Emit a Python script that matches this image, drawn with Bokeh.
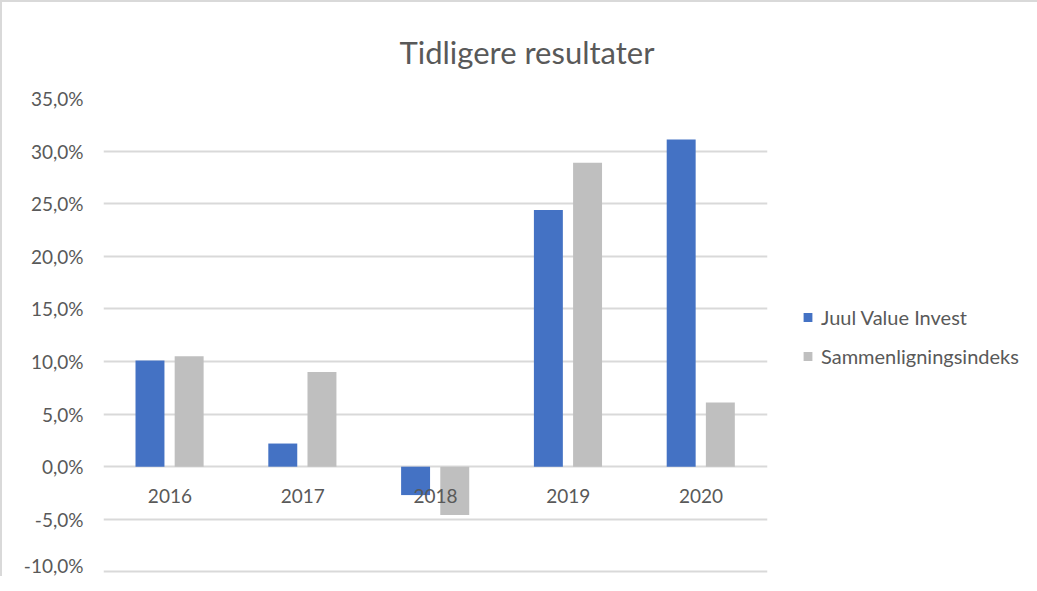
from bokeh.plotting import figure
from bokeh.models import (FactorRange, Range1d, FixedTicker, CustomJSTickFormatter,
                          Legend, LegendItem, Title, ColumnDataSource)
from bokeh.transform import dodge
from bokeh.core.properties import value
from bokeh.embed import file_html
from bokeh.resources import INLINE

title_text = "Tidligere resultater"
years = ["2016", "2017", "2018", "2019", "2020"]
juul = [10.1, 2.2, -2.7, 24.4, 31.1]
index = [10.5, 9.0, -4.6, 28.9, 6.1]
series_names = ["Juul Value Invest", "Sammenligningsindeks"]
y_ticks = [-10, -5, 0, 5, 10, 15, 20, 25, 30, 35]

FONT = "Lato"
TXT = "#595959"
BLUE = "#4472C4"
GRAY = "#BFBFBF"

src = ColumnDataSource(dict(year=years, juul=juul, index=index, zero=[0] * len(years)))

p = figure(frame_width=664, frame_height=476, output_backend="svg", toolbar_location=None,
           x_range=FactorRange(*years, range_padding=0),
           y_range=Range1d(-10.25, 35),
           min_border_left=101, min_border_right=0, min_border_top=96, min_border_bottom=2)
p.styles = {"border-left": "2px solid #d9d9d9", "border-top": "2px solid #d9d9d9"}
p.outline_line_color = None
p.background_fill_color = "white"
p.border_fill_color = "white"

p.title = Title(text=title_text, align="left", offset=296, text_font=FONT,
                text_font_size="31px", text_font_style="normal", text_color=TXT,
                standoff=56)

p.xaxis.visible = False
p.xgrid.visible = False
p.ygrid.grid_line_color = "#d9d9d9"
p.ygrid.grid_line_width = 2
p.ygrid.ticker = FixedTicker(ticks=y_ticks)

ya = p.yaxis[0]
ya.ticker = FixedTicker(ticks=y_ticks)
ya.formatter = CustomJSTickFormatter(code="return tick.toFixed(1).replace('.', ',') + '%';")
ya.axis_line_color = None
ya.major_tick_line_color = None
ya.minor_tick_line_color = None
ya.major_tick_out = 0
ya.major_label_standoff = 20
ya.major_label_text_font = FONT
ya.major_label_text_font_size = "19px"
ya.major_label_text_color = TXT

r1 = p.vbar(x=dodge("year", -0.15, range=p.x_range), top="juul", width=0.218,
            source=src, fill_color=BLUE, line_color=None)
r2 = p.vbar(x=dodge("year", 0.145, range=p.x_range), top="index", width=0.218,
            source=src, fill_color=GRAY, line_color=None)

p.text(x="year", y="zero", text="year", source=src, y_offset=29,
       text_align="center", text_baseline="middle",
       text_font=value(FONT), text_font_size="19px", text_color=TXT)

legend = Legend(items=[LegendItem(label=series_names[0], renderers=[r1]),
                       LegendItem(label=series_names[1], renderers=[r2])],
                location="center_left", orientation="vertical")
legend.glyph_width = 11
legend.glyph_height = 11
legend.label_text_font = FONT
legend.label_text_font_size = "20px"
legend.label_text_color = TXT
legend.label_standoff = 8
legend.label_height = 20
legend.spacing = 15
legend.padding = 0
legend.margin = 35
legend.border_line_color = None
legend.background_fill_alpha = 0
p.add_layout(legend, "right")

open("out.html", "w").write(file_html(p, INLINE))
